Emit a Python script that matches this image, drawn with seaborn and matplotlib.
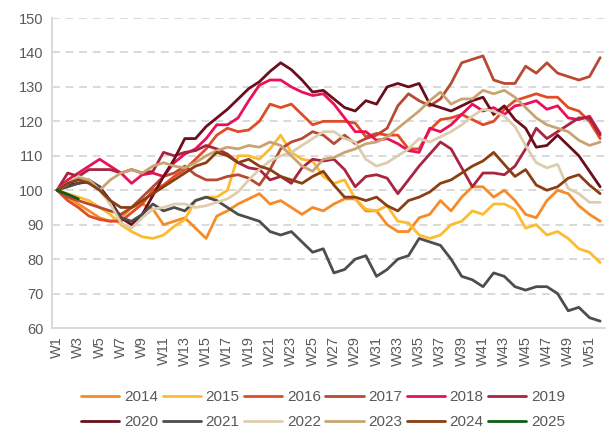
import matplotlib
matplotlib.use("Agg")
import matplotlib.pyplot as plt
import seaborn as sns
import pandas as pd

# Weekly index values (base W1 = 100) per year
weeks = [f"W{i}" for i in range(1, 53)]

y2014 = [100, 98, 96, 94, 92, 91, 92, 95, 96, 94.5, 90, 91, 92, 89, 86, 92.5, 94, 96, 97.5, 99,
         96, 97, 95, 93, 95, 94, 96, 97.5, 97.5, 94, 94, 90, 88, 88, 92, 93, 97, 94, 98, 101,
         101, 98, 100, 97, 93, 92, 97, 100, 99, 95.5, 93, 91]
y2015 = [100, 99, 98, 97, 95, 93, 90, 88, 86.5, 86, 87, 89.5, 91.5, 97, 98, 98, 100, 110, 110, 109,
         112, 116, 111, 109, 108.5, 104, 102, 103, 97.5, 94.5, 94, 95.5, 91, 90.5, 87, 86, 87, 90, 91, 94,
         93, 96, 96, 94.5, 89, 90, 87, 88, 86, 83, 82, 79]
y2016 = [100, 97, 95, 92.5, 91.5, 91, 91, 93.5, 96, 100, 101.5, 104, 106, 109, 112, 116, 118, 117, 117.5, 120,
         125, 124, 125, 122, 119, 120, 120, 120, 119.5, 115.5, 116.5, 116, 116, 112, 112, 117.5, 120.5, 121, 122, 120.5,
         119, 120, 123.5, 126, 127, 128, 127, 127, 124, 123, 120, 115]
y2017 = [100, 98, 97, 96, 95, 94, 93, 95, 98, 101, 104, 105, 107, 104.5, 103, 103, 104, 104.5, 103.5, 101.5,
         106, 112, 114, 115, 117, 116, 113.5, 116, 113.5, 115, 116, 118, 124.5, 128, 126, 124.5, 126.5, 131, 137, 138,
         139, 132, 131, 131, 136, 134, 137, 134, 133, 132, 133, 138.5]
y2018 = [100, 103, 105, 107, 109, 107, 105, 102, 104.5, 105, 104, 108, 110.5, 112, 115, 119, 119, 121, 126, 130.5,
         132, 132, 130, 128.5, 127.5, 128, 125, 121, 117, 117, 114.5, 115, 113.5, 111.5, 111, 118, 117, 119, 122, 125,
         123, 124, 122, 124.5, 125, 126, 123.5, 124.5, 121, 120.5, 121.5, 116.5]
y2019 = [100, 105, 104, 106, 106, 106, 105, 106, 105, 105.5, 111, 110, 111, 111.5, 113, 112, 110.5, 108, 106.5, 106,
         103, 104, 102, 106.5, 109, 108.5, 109, 106, 101, 104, 104.5, 103.5, 99, 103, 107, 110.5, 114, 112, 106.5, 101,
         105, 105, 104.5, 107, 112, 118, 115, 117, 119, 121, 121, 116]
y2020 = [100, 101.5, 102, 102.5, 101, 97, 92, 90, 93, 98.5, 104, 109, 115, 115, 118.5, 121, 123.5, 126.5, 129.5, 131.5,
         134.5, 137, 135, 132, 128.5, 129, 126.5, 124, 123, 126, 125, 130, 131, 130, 131, 125, 124, 123, 124.5, 126,
         127, 122, 124.5, 120.5, 118, 112.5, 113, 116, 113, 110, 105.5, 101]
y2021 = [100, 101, 102, 103, 101, 96, 92, 91, 93, 96, 94, 95, 94, 97, 98, 97, 95, 93, 92, 91,
         88, 87, 88, 85, 82, 83, 76, 77, 80, 81, 75, 77, 80, 81, 86, 85, 84, 80, 75, 74,
         72, 76, 75, 72, 71, 72, 72, 70, 65, 66, 63, 62]
y2022 = [100, 102, 104, 103, 100, 96, 90.5, 89, 92, 94.5, 95, 96, 96, 95, 95.5, 96.5, 97.5, 99.5, 103, 106,
         108.5, 110, 111, 113, 115, 117, 117, 115, 114, 109, 107, 108, 110, 112, 115, 114, 115.5, 117, 119, 121.5,
         123.5, 123, 121.5, 118.5, 113, 108, 106.5, 107.5, 100.5, 99, 96.5, 96.5]
y2023 = [100, 102, 103.5, 103, 100, 103, 105, 106, 105, 107, 108, 107, 106.5, 108, 110, 111.5, 112.5, 112, 113, 112.5,
         114, 113, 110, 107, 105.5, 109, 109.5, 111, 112, 113.5, 114, 115.5, 118, 120.5, 123, 126, 128.5, 125, 126.5, 126.5,
         129, 128, 129, 127, 124, 121, 119, 118, 117, 114.5, 113, 114]
y2024 = [100, 102, 103, 102, 100, 97, 95, 95, 97, 99, 101, 103, 105, 107, 108, 111, 110, 108, 109, 107,
         106, 104, 103, 102, 104, 105.5, 101.5, 98, 98, 97, 98, 95.5, 94, 97, 98, 99.5, 102, 103, 105, 107,
         108.5, 111, 107.5, 104, 106, 101.5, 100, 101, 103.5, 104.5, 101.5, 99]
y2025 = [100, 98.8, 97.5]

years = ["2014", "2015", "2016", "2017", "2018", "2019",
         "2020", "2021", "2022", "2023", "2024", "2025"]
series = [y2014, y2015, y2016, y2017, y2018, y2019,
          y2020, y2021, y2022, y2023, y2024, y2025]
colors = ["#F68B28", "#FDBB30", "#E14B25", "#B84A33", "#EA1159", "#A8243F",
          "#6B0E1C", "#4D4D4D", "#DDCDAF", "#C9A472", "#8A3F12", "#0B5E14"]

rows = []
for yr, vals in zip(years, series):
    for i, v in enumerate(vals):
        rows.append({"week": i + 1, "value": v, "year": yr})
df = pd.DataFrame(rows)

sns.set_style("white")
plt.rcParams["font.family"] = ["Liberation Sans", "DejaVu Sans"]

fig = plt.figure(figsize=(6.07, 4.32), dpi=100)
ax = fig.add_axes([0.0852, 0.2407, 0.9123, 0.7176])

sns.lineplot(data=df, x="week", y="value", hue="year", hue_order=years,
             palette=dict(zip(years, colors)), linewidth=2.0, ax=ax,
             estimator=None, sort=False)

ax.set_xlim(0.5, 52.5)
ax.set_ylim(60, 150)
ax.set_yticks(range(60, 151, 10))
ax.set_xticks(range(1, 53, 2))
ax.set_xticklabels(weeks[::2], rotation=90)
ax.tick_params(axis="both", length=0, labelsize=10.5, colors="#595959", pad=6)
ax.set_xlabel("")
ax.set_ylabel("")

ax.grid(axis="y", color="#D9D9D9", linestyle=(0, (4, 3)), linewidth=1.4)
ax.set_axisbelow(True)
for side in ["top", "right"]:
    ax.spines[side].set_visible(False)
for side in ["left", "bottom"]:
    ax.spines[side].set_color("#D9D9D9")
    ax.spines[side].set_linewidth(1.4)

# Legend laid out row by row: 2014-2019 on top, 2020-2025 below
handles, labels = ax.get_legend_handles_labels()
ncol = 6
order = [r * ncol + c for c in range(ncol) for r in range(2)]
ax.legend([handles[i] for i in order], [labels[i] for i in order],
          loc="upper center", bbox_to_anchor=(0.49, -0.165),
          ncol=ncol, frameon=False, fontsize=11, labelcolor="#595959",
          handlelength=2.5, handletextpad=0.3, columnspacing=0.3, labelspacing=0.75,
          borderpad=0.2)

fig.savefig("out.png", dpi=100)
